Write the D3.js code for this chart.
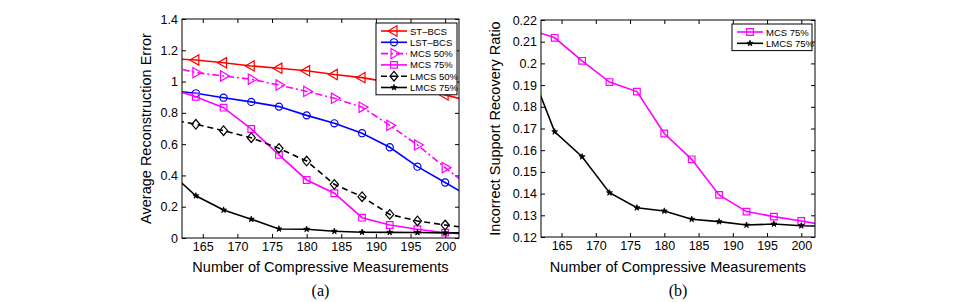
<!DOCTYPE html>
<html>
<head>
<meta charset="utf-8">
<script src="https://cdn.jsdelivr.net/npm/d3@7"></script>
<style>
  body { margin: 0; background: #fff; }
  text { font-family: "Liberation Sans", Arial, sans-serif; }
</style>
</head>
<body>
<div id="chart"></div>
<script>
// Hardcoded data (points at 160 and 204 sit just outside the visible range)
const measurements = [160, 164, 168, 172, 176, 180, 184, 188, 192, 196, 200, 204];

// (a) average reconstruction error
const stBcs   = [1.148, 1.138, 1.12, 1.10, 1.085, 1.069, 1.045, 1.025, 0.995, 0.96, 0.915, 0.87];
const lstBcs  = [0.945, 0.925, 0.897, 0.87, 0.84, 0.784, 0.733, 0.67, 0.58, 0.456, 0.355, 0.25];
const mcs50   = [1.10, 1.057, 1.036, 1.015, 0.978, 0.937, 0.893, 0.836, 0.72, 0.595, 0.45, 0.31];
const mcs75   = [0.96, 0.903, 0.833, 0.697, 0.531, 0.371, 0.286, 0.13, 0.083, 0.056, 0.034, 0.02];
const lmcs50  = [0.76, 0.727, 0.686, 0.641, 0.573, 0.492, 0.343, 0.264, 0.151, 0.109, 0.083, 0.06];
const lmcs75  = [0.43, 0.27, 0.179, 0.12, 0.058, 0.056, 0.043, 0.037, 0.036, 0.035, 0.033, 0.032];

// (b) incorrect support recovery ratio
const mcs75Ratio  = [0.216, 0.2118, 0.2012, 0.1914, 0.187, 0.1677, 0.1558, 0.1394, 0.1317, 0.1294, 0.1274, 0.1252];
const lmcs75Ratio = [0.2009, 0.1685, 0.157, 0.1404, 0.1335, 0.132, 0.1282, 0.1271, 0.1255, 0.126, 0.1252, 0.1250];

const xTicks = [165, 170, 175, 180, 185, 190, 195, 200];
const errTicks = [0, 0.2, 0.4, 0.6, 0.8, 1, 1.2, 1.4];
const ratioTicks = [0.12, 0.13, 0.14, 0.15, 0.16, 0.17, 0.18, 0.19, 0.2, 0.21, 0.22];

const svg = d3.select("#chart").append("svg")
    .attr("width", 962)
    .attr("height", 302);

// matlab-ish diamond, about as wide as tall
const diamondSym = {
    draw(ctx, size) {
        const h = Math.sqrt(size) * 0.72, w = h * 0.85;
        ctx.moveTo(0, -h); ctx.lineTo(w, 0); ctx.lineTo(0, h); ctx.lineTo(-w, 0); ctx.closePath();
    }
};

function marker(g, type, color, cx, cy) {
    if (type === "star") {
        g.append("path")
            .attr("d", d3.symbol(d3.symbolStar, 11)())
            .attr("transform", `translate(${cx},${cy})`)
            .attr("fill", color)
            .attr("stroke", color)
            .attr("stroke-width", 0.8);
        return;
    }
    const sym = {
        left: [d3.symbolTriangle, 46, -90],
        right: [d3.symbolTriangle, 46, 90],
        circle: [d3.symbolCircle, 40, 0],
        square: [d3.symbolSquare, 44, 0],
        diamond: [diamondSym, 44, 0]
    }[type];
    g.append("path")
        .attr("d", d3.symbol(sym[0], sym[1])())
        .attr("transform", `translate(${cx},${cy}) rotate(${sym[2]})`)
        .attr("fill", "none")
        .attr("stroke", color)
        .attr("stroke-width", 1.2);
}

function panel(p) {
    const x = d3.scaleLinear().domain([162, 202]).range([p.left, p.right]);
    const y = d3.scaleLinear().domain(p.yDomain).range([p.bottom, p.top]);
    const g = svg.append("g");

    g.append("clipPath").attr("id", p.id)
        .append("rect")
        .attr("x", p.left).attr("y", p.top)
        .attr("width", p.right - p.left).attr("height", p.bottom - p.top);

    const fmt = d => String(+d.toFixed(2));

    g.append("g").attr("transform", `translate(0,${p.bottom})`)
        .call(d3.axisBottom(x).tickValues(xTicks).tickSizeInner(-4).tickSizeOuter(0).tickPadding(4));
    g.append("g").attr("transform", `translate(0,${p.top})`)
        .call(d3.axisTop(x).tickValues(xTicks).tickSizeInner(-4).tickSizeOuter(0).tickFormat(""));
    g.append("g").attr("transform", `translate(${p.left},0)`)
        .call(d3.axisLeft(y).tickValues(p.yTicks).tickFormat(fmt).tickSizeInner(-4).tickSizeOuter(0).tickPadding(4));
    g.append("g").attr("transform", `translate(${p.right},0)`)
        .call(d3.axisRight(y).tickValues(p.yTicks).tickSizeInner(-4).tickSizeOuter(0).tickFormat(""));
    g.selectAll(".domain").remove();
    g.selectAll(".tick line").attr("stroke", "#000");
    g.selectAll(".tick text").attr("font-size", 12.5).attr("fill", "#000")
        .attr("font-family", '"Liberation Sans", Arial, sans-serif');

    const line = d3.line().x((d, i) => x(measurements[i])).y(d => y(d));
    const plot = g.append("g").attr("clip-path", `url(#${p.id})`);
    p.series.forEach(s => {
        plot.append("path")
            .datum(s.values)
            .attr("fill", "none")
            .attr("stroke", s.color)
            .attr("stroke-width", 1.6)
            .attr("stroke-dasharray", s.dash || null)
            .attr("d", line);
        s.values.forEach((v, i) => {
            const m = measurements[i];
            if (m > 162 && m < 202) marker(plot, s.marker, s.color, x(m), y(v));
        });
    });

    g.append("rect")
        .attr("x", p.left).attr("y", p.top)
        .attr("width", p.right - p.left).attr("height", p.bottom - p.top)
        .attr("fill", "none").attr("stroke", "#000").attr("stroke-width", 1);

    // legend
    const lg = g.append("g");
    const rowH = 11.3;
    lg.append("rect")
        .attr("x", p.legend.x).attr("y", p.legend.y)
        .attr("width", p.legend.w).attr("height", p.series.length * rowH + 4)
        .attr("fill", "#fff").attr("stroke", "#000").attr("stroke-width", 1);
    p.series.forEach((s, i) => {
        const ly = p.legend.y + 8 + i * rowH;
        const lx = p.legend.x + 5;
        lg.append("line")
            .attr("x1", lx).attr("x2", lx + 26).attr("y1", ly).attr("y2", ly)
            .attr("stroke", s.color).attr("stroke-width", 1.6)
            .attr("stroke-dasharray", s.dash || null);
        marker(lg, s.marker, s.color, lx + 13, ly);
        lg.append("text")
            .attr("x", lx + 29).attr("y", ly + 3.5)
            .attr("font-size", 9.5)
            .text(s.name);
    });

    g.append("text")
        .attr("x", (p.left + p.right) / 2).attr("y", 272)
        .attr("text-anchor", "middle").attr("font-size", 14.5)
        .text("Number of Compressive Measurements");
    g.append("text")
        .attr("transform", `translate(${p.yTitleX},${(p.top + p.bottom) / 2}) rotate(-90)`)
        .attr("text-anchor", "middle").attr("font-size", 14.5)
        .text(p.yTitle);
    g.append("text")
        .attr("x", (p.left + p.right) / 2).attr("y", 296)
        .attr("text-anchor", "middle").attr("font-size", 16)
        .style("font-family", '"Liberation Serif", "Times New Roman", serif')
        .text(p.label);
}

panel({
    id: "clipA", left: 182, right: 459, top: 19, bottom: 238,
    yDomain: [0, 1.4], yTicks: errTicks,
    yTitle: "Average Reconstruction Error", yTitleX: 151, label: "(a)",
    legend: {x: 376, y: 23, w: 81},
    series: [
        {name: "ST\u2013BCS", values: stBcs, color: "#ff0000", marker: "left"},
        {name: "LST\u2013BCS", values: lstBcs, color: "#0000ff", marker: "circle"},
        {name: "MCS 50%", values: mcs50, color: "#ff00ff", marker: "right", dash: "7,3,2,3"},
        {name: "MCS 75%", values: mcs75, color: "#ff00ff", marker: "square"},
        {name: "LMCS 50%", values: lmcs50, color: "#000", marker: "diamond", dash: "6,4"},
        {name: "LMCS 75%", values: lmcs75, color: "#000", marker: "star"}
    ]
});

panel({
    id: "clipB", left: 541, right: 815, top: 20, bottom: 237,
    yDomain: [0.12, 0.22], yTicks: ratioTicks,
    yTitle: "Incorrect Support Recovery Ratio", yTitleX: 500, label: "(b)",
    legend: {x: 732, y: 24, w: 80},
    series: [
        {name: "MCS 75%", values: mcs75Ratio, color: "#ff00ff", marker: "square"},
        {name: "LMCS 75%", values: lmcs75Ratio, color: "#000", marker: "star"}
    ]
});
</script>
</body>
</html>
